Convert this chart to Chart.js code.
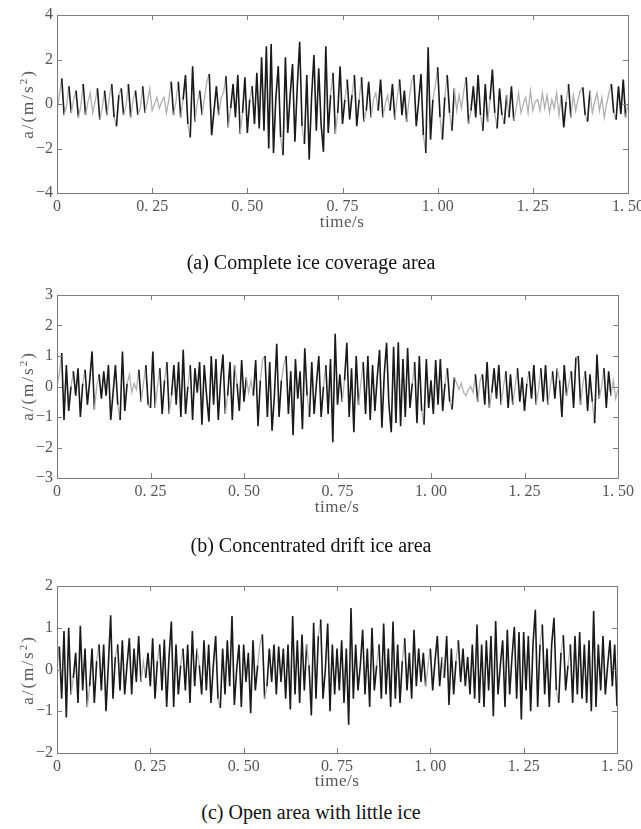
<!DOCTYPE html>
<html>
<head>
<meta charset="utf-8">
<script src="https://cdn.jsdelivr.net/npm/chart.js@4.4.1/dist/chart.umd.min.js"></script>
<style>
  html, body { margin: 0; padding: 0; background: #fff; }
  body { width: 641px; height: 829px; position: relative; overflow: hidden; }
  .box { position: absolute; left: 0; width: 641px; }
  .cap { position: absolute; left: 0; width: 622px; text-align: center; line-height: 24px;
         font-family: 'Liberation Serif', 'Times New Roman', serif; font-size: 20px; color: #111; }
  .xt, .yt { position: absolute; font-family: 'Liberation Serif', serif; font-size: 17px; color: #555;
             line-height: 1; white-space: nowrap; }
  .xt { transform: translate(-50%, -50%); letter-spacing: 0.5px; }
  .yt { transform: translate(-50%, -50%) rotate(-90deg); letter-spacing: 2px; }
  .yt sup { font-size: 11px; vertical-align: 6px; line-height: 0; }
</style>
</head>
<body>

<div class="box" style="top:0;height:232px"><canvas id="chartA"></canvas></div>
<div class="box" style="top:280px;height:232px"><canvas id="chartB"></canvas></div>
<div class="box" style="top:571px;height:215px"><canvas id="chartC"></canvas></div>

<div class="yt" style="left:27px;top:104px">a/(m/s<sup>2</sup>)</div>
<div class="yt" style="left:27px;top:386px">a/(m/s<sup>2</sup>)</div>
<div class="yt" style="left:27px;top:670px">a/(m/s<sup>2</sup>)</div>

<div class="xt" style="left:342px;top:221px">time/s</div>
<div class="xt" style="left:337px;top:506px">time/s</div>
<div class="xt" style="left:337px;top:780px">time/s</div>

<div class="cap" style="top:250px">(a) Complete ice coverage area</div>
<div class="cap" style="top:533px">(b) Concentrated drift ice area</div>
<div class="cap" style="top:800px">(c) Open area with little ice</div>

<script>
// Sampling interval of the acceleration records (s)
const DT = 0.00625;

// Time axis ticks
const timeTicks = [0, 0.25, 0.5, 0.75, 1.0, 1.25, 1.5];
const timeTickLabels = ['0', '0. 25', '0. 50', '0. 75', '1. 00', '1. 25', '1. 50'];

// Acceleration axis ticks for each panel
const accTicksA = [-4, -2, 0, 2, 4];
const accTickLabelsA = ['\u22124', '\u22122', '0', '2', '4'];
const accTicksB = [-3, -2, -1, 0, 1, 2, 3];
const accTickLabelsB = ['\u22123', '\u22122', '\u22121', '0', '1', '2', '3'];
const accTicksC = [-2, -1, 0, 1, 2];
const accTickLabelsC = ['\u22122', '\u22121', '0', '1', '2'];

// (a) Complete ice coverage area, acceleration in m/s^2 (one row = 0.1 s)
const accelCompleteIce = [
  -0.3, 0.4, 1.15, -0.5, -0.1, 0.8, -0.4, 0.2, 0.6, -0.6, -0.1, 0.9, -0.5, 0.1, 0.5, -0.4,
  0.1, 0.7, -0.7, -0.2, 0.6, -0.5, 0.3, 0.9, -0.6, -1.0, 0.4, 0.7, -0.5, -0.1, 0.9, -0.6,
  0.2, 0.6, -0.5, -0.2, 0.8, -0.4, 0.1, 0.7, -0.3, 0.0, 0.3, -0.2, 0.1, 0.3, -0.4, 0.2,
  1.0, -0.5, 0.1, 1.0, -0.6, 0.2, 1.3, -0.9, -1.5, 1.7, -0.8, 0.1, 0.6, -0.5, 0.3, 1.0,
  1.35, -1.4, -0.3, 0.8, -0.5, 0.3, 0.5, 1.25, -1.05, -0.2, 0.9, -0.6, 1.3, -1.35, -0.4, 1.2,
  -1.3, 0.2, 0.8, -0.9, 1.4, -1.1, 2.1, -1.2, 2.6, -2.0, 2.7, -2.2, 0.3, 1.7, -1.5, -2.3,
  2.1, -1.3, 0.4, 1.8, -1.7, 0.8, 2.8, -1.0, -1.8, 1.3, -2.5, 0.3, 2.2, -1.2, 1.6, -0.9,
  -2.15, 2.6, -1.3, 0.4, 1.4, -1.35, -0.4, 1.7, -0.9, 0.2, 1.1, -0.7, 0.4, 1.3, -1.0, 0.2,
  1.2, -0.8, -0.3, 1.0, -0.6, 0.2, 0.5, -0.3, 1.1, -0.6, 0.0, 0.4, -0.3, 0.9, -0.7, 0.3,
  1.1, -0.5, 0.6, -0.8, 0.2, 1.0, 1.3, -1.0, 0.1, 1.35, -1.4, -2.2, 2.55, -1.6, 0.2, 0.8,
  1.65, -0.6, -1.6, 0.3, 1.3, -0.4, -1.2, 0.7, -0.3, 0.4, -0.2, 0.6, 1.2, -0.9, -0.3, 0.8,
  -0.6, 1.3, -0.5, -1.2, 0.9, -0.8, 0.2, 1.55, -0.4, -1.1, 0.7, -0.5, -0.9, 0.4, -0.6, 0.8,
  -0.75, -0.2, 0.5, -0.4, 0.0, 0.3, -0.4, 0.6, -0.3, 0.1, 0.2, -0.3, 0.5, -0.2, 0.4, -0.4,
  0.2, -0.2, 0.5, -0.5, 0.4, -1.05, 0.1, 0.9, -0.6, 0.4, -0.3, 0.2, 0.6, 0.75, -0.5, -0.8,
  0.6, -0.4, 0.1, 0.5, -0.3, 0.3, -0.6, 0.0, 0.5, 0.9, -0.4, -0.7, 0.8, -0.45, 1.1, -0.6,
  0.0
];

// (b) Concentrated drift ice area
const accelDriftIce = [
  0.0, 0.4, 1.1, -1.1, 0.7, -0.8, 0.0, 0.5, -0.3, 0.6, -1.0, 0.1, 0.55, -0.6, 0.2, 1.15,
  -0.75, 0.0, 0.4, -0.4, 0.5, -0.3, 0.7, -1.1, -0.2, 0.7, -0.6, -1.1, 1.15, -0.8, 0.1, 0.4,
  -0.2, 0.1, -0.1, 0.55, -0.5, 0.1, 0.7, -0.6, -0.7, 1.15, -0.7, 0.0, 0.6, -0.9, 0.2, 0.8,
  -0.9, -0.3, 0.7, -0.6, 0.8, -1.0, 1.2, -0.9, 0.0, 0.7, -1.1, 0.6, -0.2, 0.8, -1.25, 0.7,
  -0.3, -1.15, 1.0, -0.6, 0.9, -1.1, 0.2, 1.05, -0.9, -0.3, 0.8, -1.1, 0.7, 0.1, -0.8, 0.87,
  -0.5, 0.3, -0.2, 0.2, -0.3, 0.87, -1.3, 0.2, 0.9, 1.0, -1.0, 0.8, -1.45, -0.3, 1.4, -1.0,
  0.2, 0.7, 1.0, -0.9, 0.5, -1.6, 0.9, -0.4, 0.5, -1.4, 1.25, -0.3, -1.0, 0.8, -0.9, 0.1,
  1.0, -1.0, 0.0, 0.7, -0.9, 0.9, -1.83, 1.73, -0.6, 0.4, -0.5, 0.2, 1.43, -1.0, 0.6, -1.5,
  1.0, -0.6, 0.1, 0.8, -0.9, 1.0, -1.1, 0.7, -0.8, 0.3, 1.2, -1.35, 0.4, 1.43, -0.6, -1.5,
  1.3, -1.2, 1.45, -1.3, 0.9, -1.0, 1.26, -0.7, 0.1, 0.8, -1.2, 1.0, -0.8, -1.25, 0.9, -0.7,
  0.2, -0.9, 0.87, -0.6, 0.9, -0.8, 0.1, 0.6, -0.5, -0.75, 0.3, 0.1, -0.1, 0.1, -0.2, -0.3,
  -0.1, 0.0, -0.2, 0.4, -0.5, 0.2, 0.4, -0.6, 0.8, -0.7, -0.2, 0.6, -0.4, 0.7, -0.6, 0.0,
  0.5, -0.7, 0.4, -0.6, 0.0, 0.6, -0.5, 0.3, -0.8, 0.1, 0.5, -0.4, 0.7, -0.6, -0.1, 0.6,
  -0.5, 0.7, -0.6, 0.0, 0.5, -0.4, 0.6, 0.2, -1.0, 0.7, -0.3, 0.1, 0.5, -0.7, 0.95, 1.0,
  -0.6, 0.1, 0.5, -0.8, 0.4, -0.5, -1.2, 1.05, -0.4, 0.0, 0.6, -0.7, 0.5, -0.3, 0.2, -0.4,
  -0.1
];

// (c) Open area with little ice
const accelOpenWater = [
  0.0, 0.55, -0.7, 0.92, -1.15, 1.0, -0.6, -0.2, 0.4, -0.8, 1.05, -0.5, 0.5, -0.9, -0.4, 0.5,
  -0.8, 0.2, 0.6, -0.5, 0.6, -1.0, 0.1, 1.3, -0.7, 0.3, 0.6, -0.5, 0.7, -0.6, 0.1, 0.75,
  -0.6, 0.5, -0.3, 0.8, -0.3, 0.2, -0.2, 0.4, -0.4, 0.75, -0.7, 0.2, 0.6, -0.5, 0.72, -0.9,
  0.3, 1.15, -0.9, 0.6, -0.6, 0.1, 0.5, -0.5, 0.6, -0.8, 0.92, -0.4, 0.5, 0.1, -0.6, 0.7,
  -0.5, 0.6, -0.8, 0.1, 0.8, -0.7, -0.92, 0.5, -0.6, 0.7, -0.4, 1.28, -0.85, 0.0, 0.6, -0.9,
  0.6, -0.3, 0.4, -1.05, 0.7, -0.5, 0.1, 0.6, 0.84, -0.7, -0.4, 0.5, -0.3, 0.6, -0.6, 0.55,
  -0.3, 0.5, -0.7, 0.6, -0.96, 1.28, -0.6, 0.7, -0.8, 0.84, -0.5, 0.6, 0.1, -1.1, 1.12, -0.7,
  0.8, 1.2, -0.7, 0.0, 1.1, -1.0, 0.6, -0.6, 0.5, -0.5, 0.7, -0.8, 0.5, -1.32, 1.47, -0.7,
  0.6, -0.5, 0.1, 0.95, -0.6, 0.5, -0.9, 1.0, -0.5, 0.1, 0.6, -0.7, 1.1, -0.6, 0.5, -0.9,
  1.15, -0.7, 0.6, -0.8, 0.2, 0.75, -0.5, 0.4, -0.7, 0.95, -0.4, 0.5, -0.3, 0.4, -0.4, 0.1,
  0.5, -0.5, 0.2, 0.8, -0.4, 0.3, -0.2, 0.8, -0.85, 0.5, -0.6, 0.2, 0.7, -0.3, 0.5, -0.4,
  0.3, -0.6, 0.6, -0.7, 1.08, -0.8, 0.6, -0.9, 0.7, -0.5, 0.8, -1.12, 1.16, -0.6, 0.1, 0.7,
  -0.9, 0.95, -0.6, 0.3, 1.02, -0.7, 0.9, -1.2, 0.9, -0.5, 0.8, -1.0, 0.6, 1.43, -0.9, 0.6,
  1.08, -0.6, 0.5, -0.9, 0.6, 1.24, -0.5, -0.8, 0.4, 0.82, -0.5, 0.1, 0.6, -0.8, 0.8, -0.6,
  0.9, -0.7, 0.6, -0.8, 0.7, -1.0, 1.4, -0.9, 0.6, -0.5, 0.8, -0.6, 0.1, 0.7, -0.4, 0.6,
  -0.88
];

const TICK_FONT = { family: "'Liberation Serif', 'Times New Roman', serif", size: 16 };
const INK = '#1a1a1a';
const LIGHT_INK = '#b0b0b0';

// Box around the plot area with short inward ticks on all four sides
const framePlugin = {
  id: 'frame',
  afterDraw(chart) {
    const { ctx, chartArea: a, scales: { x, y } } = chart;
    const L = 5;
    ctx.save();
    ctx.strokeStyle = '#7c7c7c';
    ctx.lineWidth = 1;
    ctx.strokeRect(Math.round(a.left) + 0.5, Math.round(a.top) + 0.5,
                   Math.round(a.right - a.left), Math.round(a.bottom - a.top));
    ctx.beginPath();
    x.ticks.forEach(t => {
      const px = Math.round(x.getPixelForValue(t.value)) + 0.5;
      ctx.moveTo(px, a.bottom); ctx.lineTo(px, a.bottom - L);
      ctx.moveTo(px, a.top); ctx.lineTo(px, a.top + L);
    });
    y.ticks.forEach(t => {
      const py = Math.round(y.getPixelForValue(t.value)) + 0.5;
      ctx.moveTo(a.left, py); ctx.lineTo(a.left + L, py);
      ctx.moveTo(a.right, py); ctx.lineTo(a.right - L, py);
    });
    ctx.stroke();
    ctx.restore();
  }
};

// steep strokes are drawn dark, gentle ones light and thin
const isGentle = c => Math.abs(c.p1.y - c.p0.y) < 24;

function buildChart(id, values, yMin, yMax, yTicks, yTickLabels, rightPad, xAxisHeight) {
  const points = values.map((v, i) => ({ x: i * DT, y: v }));
  return new Chart(document.getElementById(id), {
    type: 'line',
    data: {
      datasets: [{
        data: points,
        borderColor: INK,
        borderWidth: 1.5,
        pointRadius: 0,
        tension: 0,
        segment: {
          borderColor: c => isGentle(c) ? LIGHT_INK : INK,
          borderWidth: c => isGentle(c) ? 1.3 : 1.6
        }
      }]
    },
    options: {
      responsive: true,
      maintainAspectRatio: false,
      animation: false,
      layout: { padding: { top: 15, right: rightPad, left: 0, bottom: 0 } },
      plugins: { legend: { display: false }, tooltip: { enabled: false } },
      scales: {
        x: {
          type: 'linear', min: 0, max: 1.5,
          grid: { display: false, drawTicks: false }, border: { display: false },
          afterBuildTicks: s => { s.ticks = timeTicks.map(v => ({ value: v })); },
          afterFit: s => { s.height = xAxisHeight; s.paddingLeft = 0; s.paddingRight = 0; },
          ticks: {
            autoSkip: false, maxRotation: 0, minRotation: 0, padding: 4,
            font: TICK_FONT, color: '#555',
            callback: (v, i) => timeTickLabels[i]
          }
        },
        y: {
          type: 'linear', min: yMin, max: yMax,
          grid: { display: false, drawTicks: false }, border: { display: false },
          afterBuildTicks: s => { s.ticks = yTicks.map(v => ({ value: v })); },
          afterFit: s => { s.width = 57; s.paddingTop = 0; s.paddingBottom = 0; },
          ticks: {
            padding: 4, font: TICK_FONT, color: '#555',
            callback: (v, i) => yTickLabels[i]
          }
        }
      }
    },
    plugins: [framePlugin]
  });
}

buildChart('chartA', accelCompleteIce, -4, 4, accTicksA, accTickLabelsA, 13, 39);
buildChart('chartB', accelDriftIce, -3, 3, accTicksB, accTickLabelsB, 23, 34);
buildChart('chartC', accelOpenWater, -2, 2, accTicksC, accTickLabelsC, 24, 33);
</script>
</body>
</html>
